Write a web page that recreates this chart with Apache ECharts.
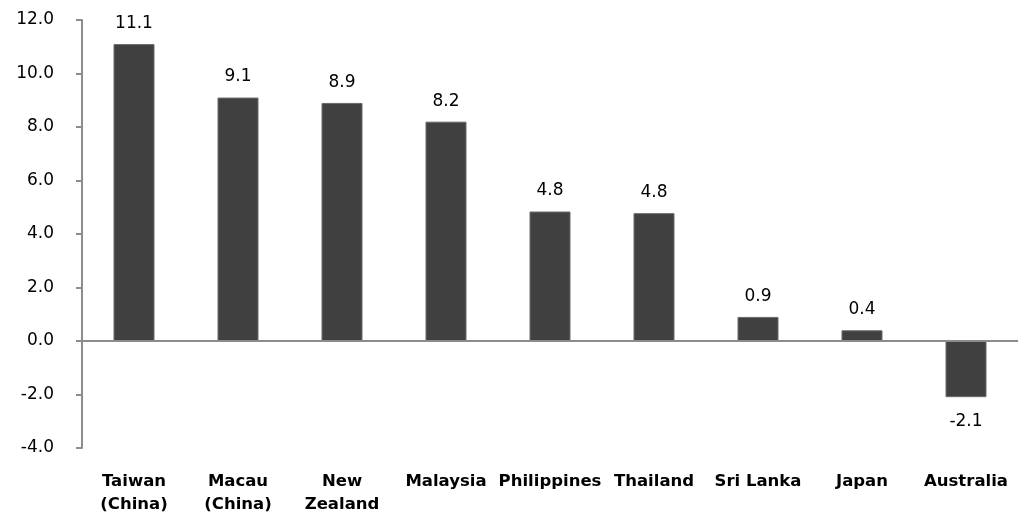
<!DOCTYPE html>
<html>
<head>
<meta charset="utf-8">
<script src="https://cdn.jsdelivr.net/npm/echarts@6/dist/echarts.min.js"></script>
<style>html,body{margin:0;padding:0;background:#fff;}#c{width:1020px;height:516px;}</style>
</head>
<body>
<div id="c"></div>
<script>
const categories = ['Taiwan\n(China)', 'Macau\n(China)', 'New\nZealand', 'Malaysia', 'Philippines', 'Thailand', 'Sri Lanka', 'Japan', 'Australia'];
const values = [11.1, 9.1, 8.9, 8.2, 4.84, 4.78, 0.9, 0.4, -2.1];
const yMin = -4, yMax = 12, yInterval = 2;

const chart = echarts.init(document.getElementById('c'));
const font = 'DejaVu Sans, Verdana, sans-serif';
chart.setOption({
  animation: false,
  grid: { left: 82, right: 2, top: 20, bottom: 68, containLabel: false },
  xAxis: {
    type: 'category',
    data: categories,
    axisLine: { show: false, onZero: false },
    axisTick: { show: false },
    axisLabel: {
      interval: 0, margin: 22, color: '#000', fontFamily: font,
      fontWeight: 'bold', fontSize: 16.5, lineHeight: 23
    }
  },
  yAxis: {
    type: 'value', min: yMin, max: yMax, interval: yInterval,
    splitLine: { show: false },
    axisLine: { show: true, lineStyle: { color: '#8c8c8c', width: 2 } },
    axisTick: { show: true, length: 6, lineStyle: { color: '#8c8c8c', width: 2 } },
    axisLabel: { margin: 28, color: '#000', fontFamily: font, fontSize: 17,
      formatter: v => v.toFixed(1) }
  },
  series: [{
    type: 'bar',
    barWidth: 41,
    data: values.map(v => ({
      value: v,
      label: { position: v < 0 ? 'bottom' : 'top', distance: v < 0 ? 16 : 12 }
    })),
    itemStyle: { color: '#404040', borderColor: '#6a6a6a', borderWidth: 1 },
    label: {
      show: true, color: '#000', fontFamily: font, fontSize: 17,
      formatter: p => p.value.toFixed(1)
    },
    markLine: {
      silent: true, symbol: 'none',
      label: { show: false },
      lineStyle: { color: '#8c8c8c', width: 2, type: 'solid' },
      data: [{ yAxis: 0 }]
    }
  }]
});
</script>
</body>
</html>
